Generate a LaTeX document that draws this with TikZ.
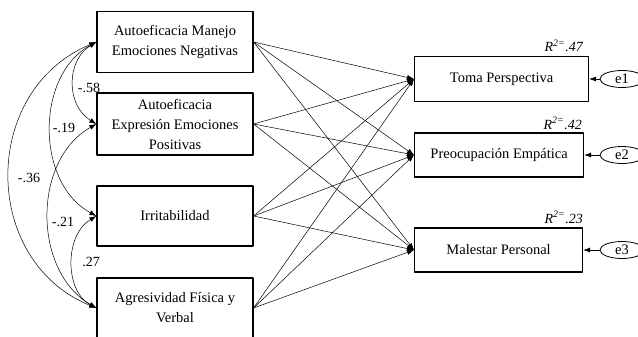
\documentclass[tikz,border=0pt]{standalone}
\usepackage{fontspec}
\setmainfont{Liberation Serif}
\usetikzlibrary{arrows.meta,shapes.geometric}
\begin{document}
\begin{tikzpicture}[x=1pt,y=-1pt,line width=0.5pt,line join=round,
	>={Latex[length=7pt,width=5pt]},
	font=\fontsize{14.5}{20}\selectfont,
	caja/.style={draw,line width=1.2pt,align=center,inner sep=2pt},
	err/.style={draw,ellipse,line width=0.8pt,minimum width=44pt,minimum height=17pt,inner sep=0pt},
	rdos/.style={anchor=base east,inner sep=0pt,font=\fontsize{14}{16}\selectfont\itshape},
	coef/.style={font=\fontsize{14}{16}\selectfont}]
	\useasboundingbox (0,0) rectangle (638,337);
	%% variables predictoras
	\node[caja,minimum width=156pt,minimum height=61pt] (B1) at (175,42) {Autoeficacia Manejo\\Emociones Negativas};
	\node[caja,minimum width=156pt,minimum height=62pt] (B2) at (175,124) {Autoeficacia\\Expresión Emociones\\Positivas};
	\node[caja,minimum width=156pt,minimum height=60pt] (B3) at (175,216) {Irritabilidad};
	\node[caja,minimum width=156pt,minimum height=60pt] (B4) at (175,308) {Agresividad Física y\\Verbal};
	
	%% variables criterio
	\node[caja,anchor=west,minimum width=174pt,minimum height=45pt] (TP) at (414,79) {Toma Perspectiva};
	\node[caja,anchor=west,minimum width=169pt,minimum height=44pt] (PE) at (414,155) {Preocupación Empática};
	\node[caja,anchor=west,minimum width=168pt,minimum height=44pt] (MP) at (414,250) {Malestar Personal};
	
	%% errores
	\node[err] (e1) at (622,79) {e1};
	\node[err] (e2) at (622,155) {e2};
	\node[err] (e3) at (622,250) {e3};
	\foreach \e/\y in {e1/TP,e2/PE,e3/MP}
	\draw[->] (\e) -- (\y);
	
	%% R cuadrado
	\node[rdos] (r1) at (583,52) {R\textsuperscript{2=}.47};
	\node[rdos] (r2) at (582,129) {R\textsuperscript{2=}.42};
	\node[rdos] (r3) at (583,223) {R\textsuperscript{2=}.23};
	
	%% efectos directos
	\foreach \x in {B1,B2,B3,B4}
	\foreach \y in {TP,PE,MP}
	\draw[->] (\x.east) -- (\y.west);
	
	%% covarianzas
	\draw[<->] (B1.west) .. controls +(-30,18) and +(-31,-19) .. (B2.west);
	\draw[<->] (B1.west) .. controls +(-61,33) and +(-61,-33) .. (B3.west);
	\draw[<->] (B1.west) .. controls +(-116,48) and +(-116,-47) .. (B4.west);
	\draw[<->] (B2.west) .. controls +(-64,36) and +(-64,-37) .. (B4.west);
	\draw[<->] (B3.west) .. controls +(-32,19) and +(-32,-17) .. (B4.west);
	\node[coef] (c12) at (89,88) {-.58};
	\node[coef] (c13) at (64,128) {-.19};
	\node[coef] (c14) at (29,178) {-.36};
	\node[coef] (c24) at (63,222) {-.21};
	\node[coef] (c34) at (91,262) {.27};
\end{tikzpicture}
\end{document}
